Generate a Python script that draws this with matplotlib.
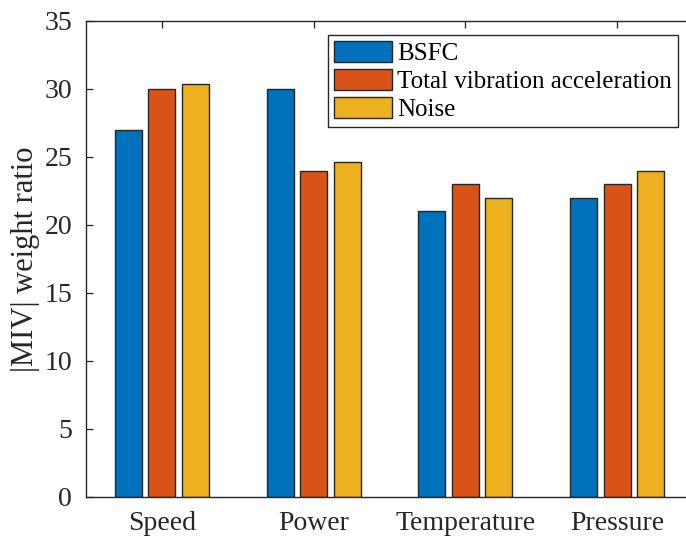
import numpy as np
import matplotlib.pyplot as plt

plt.rcParams['font.family'] = ['Liberation Serif', 'DejaVu Serif']

# |MIV| weight ratio per input parameter and output
categories = ['Speed', 'Power', 'Temperature', 'Pressure']
series_names = ['BSFC', 'Total vibration acceleration', 'Noise']
bsfc = [27, 30, 21, 22]
vibration = [30, 24, 23, 23]
noise = [30.4, 24.6, 22, 24]
y_ticks = [0, 5, 10, 15, 20, 25, 30, 35]

colors = ['#0072BD', '#D95319', '#EDB120']
edge = '#262626'

fig = plt.figure(figsize=(6.86, 5.36), dpi=100)
# axes run slightly past the right edge of the canvas
ax = fig.add_axes([86 / 686, 39 / 536, 607 / 686, 476 / 536])

x = np.arange(1, len(categories) + 1)
width = 0.178
offsets = [-0.22, 0.0, 0.22]
for vals, off, c, name in zip([bsfc, vibration, noise], offsets, colors, series_names):
    ax.bar(x + off, vals, width, color=c, edgecolor=edge, linewidth=1.0,
           label=name, zorder=2)

ax.set_xlim(0.5, 4.5)
ax.set_ylim(0, 35)
ax.set_xticks(x)
ax.set_xticklabels(categories)
ax.set_yticks(y_ticks)

ax.tick_params(axis='both', direction='in', length=5, width=0.9, color=edge,
               labelsize=20, top=True, right=True, colors='#262626')
ax.tick_params(axis='x', pad=10)
ax.tick_params(axis='y', pad=10)
for s in ax.spines.values():
    s.set_color(edge)
    s.set_linewidth(1.0)

ax.set_ylabel('|MIV| weight ratio', fontsize=22, color='#262626')
ax.yaxis.set_label_coords((40 - 86) / 607, 0.5)

leg = fig.legend(loc='upper left', bbox_to_anchor=(328 / 686, 1 - 35 / 536),
                 fontsize=18, frameon=True, fancybox=False, framealpha=1,
                 edgecolor=edge, handlelength=2.3, handleheight=0.9,
                 handletextpad=0.2, labelspacing=0.15, borderpad=0.25,
                 borderaxespad=0)
leg.get_frame().set_linewidth(1.0)

fig.savefig('out.png', dpi=100)
